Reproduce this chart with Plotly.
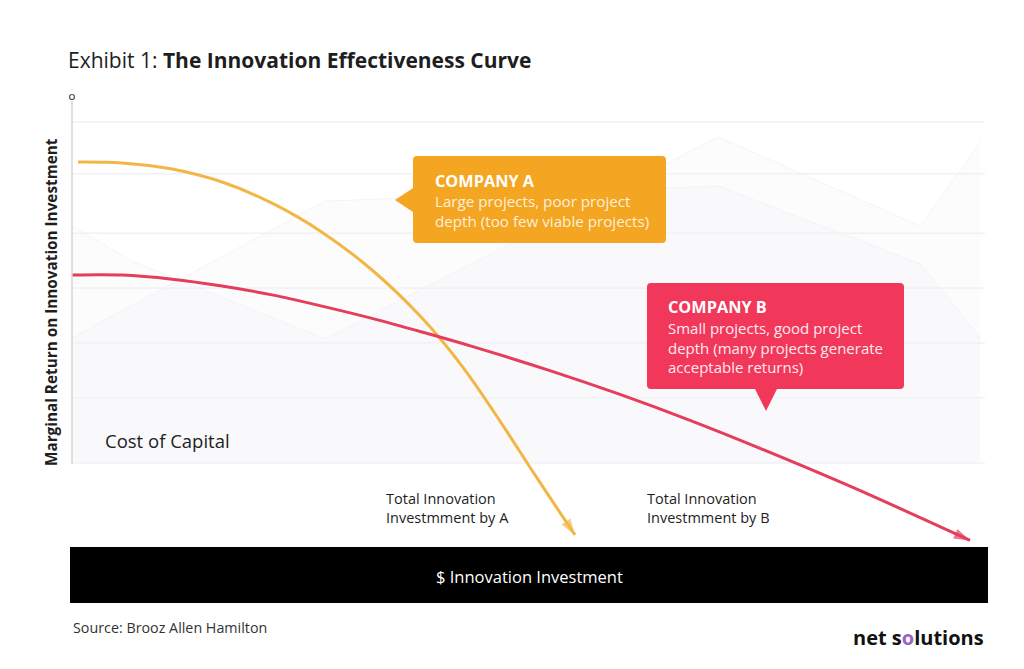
import plotly.graph_objects as go

# --- data (x: investment, 0-100; y: marginal return, 0 = cost of capital line) ---
company_a_x = [0.66, 5.48, 10.95, 16.43, 21.91, 27.38, 32.86, 38.34, 42.72, 46.88, 50.71, 55.09]
company_a_y = [88.3, 88.0, 86.2, 82.4, 76.2, 67.7, 56.6, 42.5, 28.4, 12.3, -3.5, -21.1]

company_b_x = [0.0, 5.48, 10.95, 16.43, 21.91, 27.38, 32.86, 38.34, 43.81, 52.35, 60.02, 67.69, 75.36, 85.21, 98.36]
company_b_y = [55.1, 55.1, 53.9, 51.9, 49.3, 46.0, 42.4, 38.4, 34.2, 27.1, 20.1, 12.5, 4.3, -6.8, -22.7]

# faint decorative background series
bg_upper_x = [0.0, 6.6, 27.7, 70.8, 92.9, 99.5]
bg_upper_y = [69.5, 59.2, 36.4, 95.6, 69.5, 94.1]
bg_lower_x = [0.0, 27.7, 70.8, 92.9, 99.5]
bg_lower_y = [36.7, 76.8, 81.2, 58.4, 36.7]

grid_vals = [100, 84.8, 67.4, 51.3, 35.2, 19.1, 0]

# page is 1024x669; plotly div sits inside an 8px body margin
OFF = 8
W, H = 1024 - 2 * OFF, 669 - 2 * OFF
FONT = "Open Sans"
YELLOW_LINE = "#f3b646"
RED_LINE = "#e53d5c"
YELLOW_BOX = "#f4a522"
RED_BOX = "#f2385a"


def px(x):
    return (x - OFF) / W


def py(y):
    return 1 - (y - OFF) / H


def path(points):
    parts = []
    for i, p in enumerate(points):
        if p[0] == "Q":
            parts.append(f"Q{px(p[1])},{py(p[2])} {px(p[3])},{py(p[4])}")
        else:
            parts.append(("M" if i == 0 else "L") + f"{px(p[0])},{py(p[1])}")
    return " ".join(parts) + " Z"


fig = go.Figure()

for bx, by in [(bg_upper_x, bg_upper_y), (bg_lower_x, bg_lower_y)]:
    fig.add_trace(go.Scatter(
        x=bx, y=by, mode="lines", fill="tozeroy",
        fillcolor="rgba(240,243,248,0.22)",
        line=dict(color="rgba(234,237,243,0.55)", width=1),
        hoverinfo="skip", showlegend=False))

for cx, cy, col in [(company_a_x, company_a_y, YELLOW_LINE), (company_b_x, company_b_y, RED_LINE)]:
    sizes = [0] * (len(cx) - 1) + [17]
    fig.add_trace(go.Scatter(
        x=cx, y=cy, mode="lines+markers",
        line=dict(color=col, width=3, shape="spline", smoothing=1),
        marker=dict(symbol="arrow", size=sizes, color=col, angleref="previous",
                    line=dict(width=0)),
        hoverinfo="skip", showlegend=False))

shapes = []
for g in grid_vals:
    shapes.append(dict(type="line", xref="x", yref="y", x0=0, x1=100, y0=g, y1=g,
                       line=dict(color="#e9ebef", width=1), layer="below"))

# vertical axis line with small circle on top
shapes.append(dict(type="line", xref="paper", yref="paper", x0=px(72), x1=px(72),
                   y0=py(101), y1=py(464), line=dict(color="#d4d4d4", width=1.5)))
shapes.append(dict(type="circle", xref="paper", yref="paper",
                   x0=px(69.5), x1=px(74.5), y0=py(94.5), y1=py(99.5),
                   line=dict(color="#555", width=1.2), fillcolor="white"))

# callout A
shapes.append(dict(type="path", xref="paper", yref="paper", fillcolor=YELLOW_BOX,
                   line=dict(width=0),
                   path=path([(417, 156), (662, 156), ("Q", 666, 156, 666, 160),
                              (666, 239), ("Q", 666, 243, 662, 243), (417, 243),
                              ("Q", 413, 243, 413, 239), (413, 212), (395, 200),
                              (413, 188), (413, 160), ("Q", 413, 156, 417, 156)])))
# callout B
shapes.append(dict(type="path", xref="paper", yref="paper", fillcolor=RED_BOX,
                   line=dict(width=0),
                   path=path([(651, 283), (900, 283), ("Q", 904, 283, 904, 287),
                              (904, 385), ("Q", 904, 389, 900, 389), (777, 389),
                              (766, 411), (755, 389), (651, 389),
                              ("Q", 647, 389, 647, 385), (647, 287),
                              ("Q", 647, 283, 651, 283)])))

# x-axis bar
shapes.append(dict(type="rect", xref="paper", yref="paper", x0=px(70), x1=px(988),
                   y0=py(547), y1=py(603), fillcolor="black", line=dict(width=0)))


def note(text, x, y, size, color="#1e1e1e", xanchor="left", yanchor="middle", **kw):
    return dict(text=text, x=px(x), y=py(y), xref="paper", yref="paper",
                xanchor=xanchor, yanchor=yanchor, showarrow=False,
                font=dict(family=FONT, size=size, color=color), align="left", **kw)


annotations = [
    note("Exhibit 1: <b>The Innovation Effectiveness Curve</b>", 66, 60, 21),
    note("<b>Marginal Return on Innovation Investment</b>", 51, 302, 15.3,
         xanchor="center", textangle=-90),
    note("<b>COMPANY A</b>", 433, 181, 16.3, color="white"),
    note("Large projects, poor project<br>depth (too few viable projects)", 433, 211, 15.2,
         color="#fdf0da"),
    note("<b>COMPANY B</b>", 666, 307, 16.3, color="white"),
    note("Small projects, good project<br>depth (many projects generate<br>acceptable returns)",
         666, 347, 15, color="#feeaee"),
    note("Cost of Capital", 103, 440, 18.5, color="#222"),
    note("Total Innovation<br>Investmment by A", 384, 508, 14.5),
    note("Total Innovation<br>Investmment by B", 645, 508, 14.5),
    note("$ Innovation Investment", 529, 576, 16.5, color="white", xanchor="center"),
    note("Source: Brooz Allen Hamilton", 71, 627, 14.3, color="#333"),
    note("<b>net s<span style='color:#9a62c9'>o</span>lutions</b>", 986, 637, 20,
         color="#111", xanchor="right"),
]

fig.update_layout(
    width=W, height=H,
    margin=dict(l=0, r=0, t=0, b=0),
    paper_bgcolor="white", plot_bgcolor="white",
    xaxis=dict(range=[(OFF - 72) / 9.13, (1024 - OFF - 72) / 9.13], domain=[0, 1],
               visible=False, fixedrange=True),
    yaxis=dict(range=[(463 - (669 - OFF)) / 3.41, (463 - OFF) / 3.41], domain=[0, 1],
               visible=False, fixedrange=True),
    shapes=shapes,
    annotations=annotations,
    font=dict(family=FONT),
)

fig.write_html("out.html")
